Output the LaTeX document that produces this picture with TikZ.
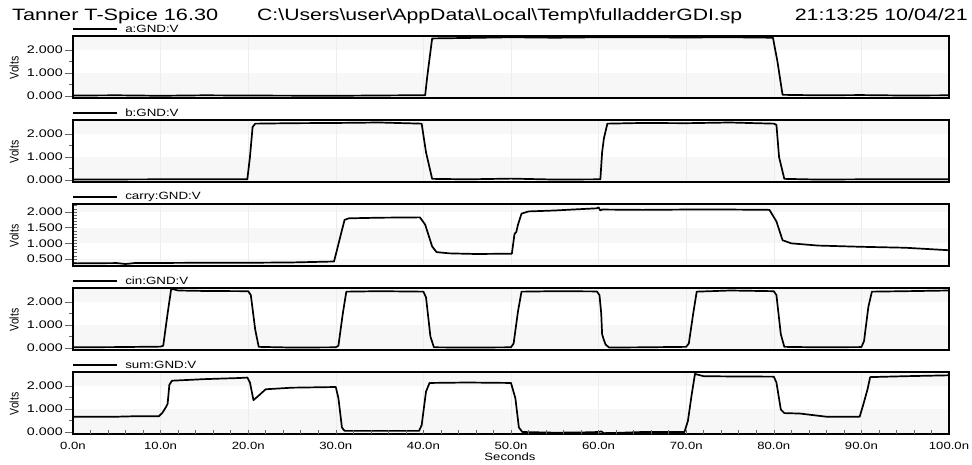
\documentclass[tikz,border=0pt]{standalone}
\usepackage{graphicx}
\usepackage{fontspec}
\setmainfont{Liberation Sans}
\begin{document}
\begin{tikzpicture}[x=1pt,y=-1pt,
  frame/.style={line width=1.7pt},
  wave/.style={line width=1.7pt, line join=round, line cap=round},
  vgrid/.style={line width=0.6pt, black!7},
  band/.style={fill=black!3},
  tickm/.style={line width=0.6pt, black!60},
  ylab/.style={font=\fontsize{11}{11}\selectfont, anchor=east, inner sep=0pt, xscale=1.3},
  xlab/.style={font=\fontsize{10.5}{10.5}\selectfont, anchor=base, inner sep=0pt, xscale=1.25},
  leg/.style={font=\fontsize{10.5}{10.5}\selectfont, anchor=west, inner sep=0pt, xscale=1.27},
  legline/.style={line width=2.6pt},
  ttl/.style={font=\fontsize{16.4}{16.4}\selectfont, inner sep=0pt, anchor=base west},
  volts/.style={font=\fontsize{10.5}{10.5}\selectfont, rotate=90, inner sep=0pt, yscale=1.2}
]
\useasboundingbox (0,0) rectangle (972,464);

% title
\node[ttl] (t1) at (12,20) {\resizebox{206pt}{\height}{Tanner T-Spice 16.30}};
\node[ttl] (t2) at (257,20) {\resizebox{485pt}{\height}{C:\textbackslash Users\textbackslash user\textbackslash AppData\textbackslash Local\textbackslash Temp\textbackslash fulladderGDI.sp}};
\node[ttl, anchor=base east] (t3) at (968,20) {\resizebox{173pt}{\height}{21:13:25 10/04/21}};

% generic panels (0..2.5 V)
\foreach \T/\lab/\nm in {36/a/pa,120/b/pb,288/cin/pc,372/sum/ps} {
  \pgfmathsetmacro\B{\T+62}
  \fill[band] (73,\T) rectangle (949,\B-48);
  \fill[band] (73,\B-25) rectangle (949,\B);
  \foreach \k in {1,...,9} \draw[vgrid] (73+87.6*\k,\T) -- (73+87.6*\k,\B);
  \foreach \v/\s in {0/0.000,1/1.000,2/2.000} {
    \draw[tickm] (65,\B-2-23*\v) -- (73,\B-2-23*\v);
    \node[ylab] (\nm-y\v) at (63,\B-2-23*\v) {\s};
  }
  \foreach \v in {0.5,1.5} \draw[tickm] (69,\B-2-23*\v) -- (73,\B-2-23*\v);
  \draw[legline] (73,\T-7) -- (117,\T-7);
  \node[leg] (\nm) at (125,\T-7) {\lab:GND:V};
  \node[volts] (\nm-v) at (14,\T+32) {Volts};
}

% carry panel
\fill[band] (73,204) rectangle (949,212.05);
\fill[band] (73,227.7) rectangle (949,243.35);
\fill[band] (73,259) rectangle (949,266);
\foreach \k in {1,...,9} \draw[vgrid] (73+87.6*\k,204) -- (73+87.6*\k,266);
\foreach \v/\s in {0.5/0.500,1.0/1.000,1.5/1.500,2.0/2.000} {
  \draw[tickm] (65,274.65-31.3*\v) -- (73,274.65-31.3*\v);
  \node[ylab] at (63,274.65-31.3*\v) {\s};
}
\foreach \v in {3,...,22} \draw[tickm] (73,274.65-3.13*\v) -- (77,274.65-3.13*\v);
\draw[legline] (73,197) -- (117,197);
\node[leg] (pcar) at (125,197) {carry:GND:V};
\node[volts] (pcar-v) at (14,236) {Volts};

% waves
\begin{scope}[shift={(73,96)}, x=8.76pt, y=23.5pt]
\draw[wave] plot coordinates {(0,0.02) (5,0.03) (10,0.01) (15,0.03) (20,0.02) (30,0.01) (38,0.03) (40.2,0.03) (40.4,0.7) (40.6,1.3) (41,2.45) (45,2.47) (50,2.5) (55,2.48) (60,2.5) (65,2.5) (70,2.49) (75,2.5) (79.9,2.48) (80.4,1.5) (81,0.05) (85,0.03) (90,0.04) (95,0.02) (100,0.03)};
\end{scope}
\begin{scope}[shift={(73,180)}, x=8.76pt, y=23pt]
\draw[wave] plot coordinates {(0,0.02) (10,0.03) (19.9,0.03) (20.2,1.0) (20.5,2.3) (20.8,2.45) (25,2.47) (30,2.48) (35,2.5) (39.8,2.45) (40.3,1.2) (41,0.05) (45,0.03) (50,0.06) (55,0.02) (60.2,0.03) (60.4,1.2) (60.6,1.8) (61,2.45) (65,2.48) (70,2.47) (75,2.5) (80,2.45) (80.3,2.4) (80.6,1.0) (81.2,0.05) (85,0.02) (90,0.03) (100,0.03)};
\end{scope}
\begin{scope}[shift={(73,274.65)}, x=8.76pt, y=31.3pt]
\draw[wave] plot coordinates {(0,0.36) (5,0.37) (6,0.34) (7,0.37) (15,0.38) (20,0.38) (25,0.39) (29.8,0.42) (30.5,1.2) (31,1.75) (31.5,1.8) (35,1.82) (39.6,1.83) (40.2,1.6) (41,0.9) (41.5,0.72) (43,0.68) (46,0.66) (50.1,0.67) (50.4,1.3) (50.6,1.36) (50.8,1.6) (51.2,1.95) (52,2.02) (55,2.05) (57,2.08) (59.8,2.12) (60,2.15) (60.2,2.05) (60.4,2.08) (65,2.07) (70,2.08) (75,2.08) (79.5,2.07) (80.3,1.7) (81,1.1) (82,1.0) (85,0.93) (90,0.89) (95,0.86) (100,0.78)};
\end{scope}
\begin{scope}[shift={(73,348)}, x=8.76pt, y=23pt]
\draw[wave] plot coordinates {(0,0.03) (5,0.04) (10,0.06) (10.3,0.1) (10.8,1.5) (11.2,2.55) (11.5,2.55) (12,2.5) (15,2.48) (20,2.47) (20.3,2.3) (20.8,0.8) (21.2,0.05) (25,0.02) (30,0.03) (30.3,0.1) (30.8,1.5) (31.2,2.45) (35,2.47) (40,2.45) (40.3,2.2) (40.8,0.5) (41.2,0.03) (45,0.02) (50,0.03) (50.3,0.2) (50.8,1.6) (51.2,2.45) (55,2.47) (59.8,2.46) (60.1,2.3) (60.3,1.5) (60.4,0.6) (60.6,0.35) (60.8,0.15) (61.2,0.02) (65,0.03) (70,0.05) (70.3,0.2) (70.8,1.5) (71.2,2.45) (75,2.5) (80,2.47) (80.3,2.3) (80.8,0.6) (81.2,0.05) (85,0.03) (90,0.04) (90.3,0.3) (90.8,1.8) (91.2,2.45) (95,2.47) (100,2.5)};
\end{scope}
\begin{scope}[shift={(73,432)}, x=8.76pt, y=22.5pt]
\draw[wave] plot coordinates {(0,0.68) (5,0.68) (7,0.7) (9.8,0.7) (10.2,0.85) (10.6,1.1) (10.8,1.25) (11,2.1) (11.3,2.28) (15,2.35) (19,2.4) (19.9,2.42) (20.2,2.2) (20.6,1.42) (21,1.55) (22,1.9) (25,1.97) (30,2.0) (30.3,1.5) (30.7,0.2) (31,0.05) (35,0.05) (39.5,0.05) (39.8,0.3) (40.3,1.8) (40.7,2.18) (45,2.2) (50,2.18) (50.5,1.5) (50.9,0.2) (51.3,0.0) (55,-0.03) (58,-0.02) (60,0.0) (60.3,0.03) (60.6,-0.05) (62,-0.04) (65,0.0) (69.8,0.0) (70.2,0.5) (70.6,1.6) (71,2.58) (72,2.48) (75,2.47) (80,2.46) (80.3,2.2) (80.8,1.0) (81.2,0.84) (83,0.82) (86,0.68) (89.8,0.68) (90.2,1.2) (90.7,1.9) (91,2.44) (95,2.48) (100,2.52)};
\end{scope}

% frames
\foreach \T in {36,120,204,288,372} \draw[frame] (73,\T) rectangle (949,\T+62);

% x axis
\foreach \k in {1,...,49} \draw[tickm] (73+17.52*\k,434) -- (73+17.52*\k,430);
\foreach \k/\s in {0/0.0n,1/10.0n,2/20.0n,3/30.0n,4/40.0n,5/50.0n,6/60.0n,7/70.0n,8/80.0n,9/90.0n,10/100.0n}
  \node[xlab] (x\k) at (73+87.6*\k,449) {\s};
\node[xlab] (xsec) at (510,460) {Seconds};
\end{tikzpicture}
\end{document}
